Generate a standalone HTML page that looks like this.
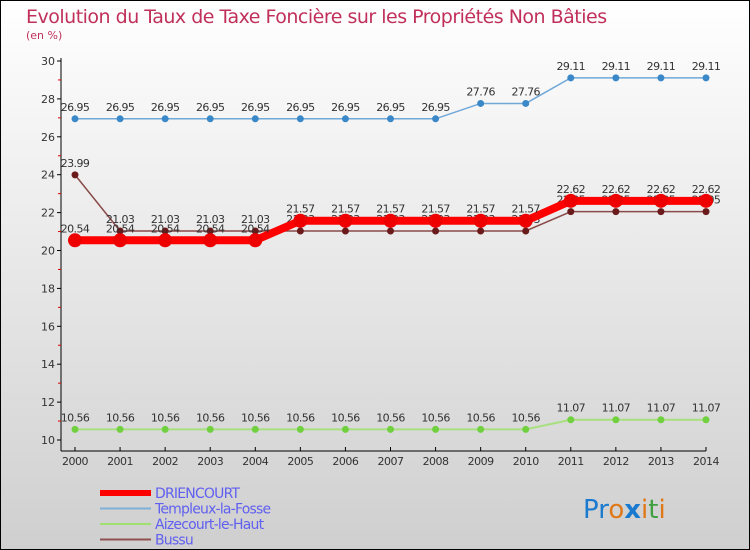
<!DOCTYPE html>
<html><head><meta charset="utf-8"><style>
body{margin:0}
svg{display:block;font-family:"DejaVu Sans","Liberation Sans",sans-serif}
</style></head><body>
<svg width="750" height="550" xmlns="http://www.w3.org/2000/svg">
<defs><linearGradient id="bg" x1="0" y1="0" x2="0" y2="1"><stop offset="0" stop-color="#ffffff"/><stop offset="1" stop-color="#cfcfcf"/></linearGradient></defs>
<rect x="0.5" y="0.5" width="749" height="549" fill="url(#bg)" stroke="#000"/>
<text x="26" y="23" font-size="19" fill="#c0305a" style="letter-spacing:-0.5px">Evolution du Taux de Taxe Foncière sur les Propriétés Non Bâties</text>
<text x="26" y="39" font-size="11" fill="#c0305a">(en %)</text>
<g id="axes"></g><g id="series"></g><g id="legend"></g>
<text x="583" y="518" font-size="26"><tspan fill="#1a7ad0">Pr</tspan><tspan fill="#e07818">o</tspan><tspan fill="#1a7ad0" font-weight="bold">x</tspan><tspan fill="#e07818">i</tspan><tspan fill="#40a040">t</tspan><tspan fill="#e07818">i</tspan></text>
</svg>
<script>
const years=[2000,2001,2002,2003,2004,2005,2006,2007,2008,2009,2010,2011,2012,2013,2014];
const yTicks=[10,12,14,16,18,20,22,24,26,28,30];
const driencourt=[20.54,20.54,20.54,20.54,20.54,21.57,21.57,21.57,21.57,21.57,21.57,22.62,22.62,22.62,22.62];
const templeux=[26.95,26.95,26.95,26.95,26.95,26.95,26.95,26.95,26.95,27.76,27.76,29.11,29.11,29.11,29.11];
const aizecourt=[10.56,10.56,10.56,10.56,10.56,10.56,10.56,10.56,10.56,10.56,10.56,11.07,11.07,11.07,11.07];
const bussu=[23.99,21.03,21.03,21.03,21.03,21.03,21.03,21.03,21.03,21.03,21.03,22.05,22.05,22.05,22.05];
const NS="http://www.w3.org/2000/svg";
const X=i=>75+i*(706-75)/(years.length-1);
const Y=v=>440-(v-10)*(440-61)/20;
function mk(p,t,a){const e=document.createElementNS(NS,t);for(const k in a)e.setAttribute(k,a[k]);p.appendChild(e);return e;}
const ax=document.getElementById('axes');
const yl=mk(ax,'line',{x1:61,y1:58,x2:61,y2:451,stroke:'#000'});


const xl=mk(ax,'line',{x1:61,y1:451,x2:706,y2:451,stroke:'#000'});


yTicks.forEach((v,k)=>{
 mk(ax,'line',{x1:57,y1:Y(v),x2:61,y2:Y(v),stroke:'#000'});
 if(k<yTicks.length-1) mk(ax,'line',{x1:58,y1:Y(v+1),x2:61,y2:Y(v+1),stroke:'#d00'});
 const t=mk(ax,'text',{x:55,y:Y(v)+4,'font-size':11,'text-anchor':'end',fill:'#333'});t.textContent=v;
 
 
});
years.forEach((yr,i)=>{
 mk(ax,'line',{x1:X(i),y1:447,x2:X(i),y2:451,stroke:'#000'});
 const t=mk(ax,'text',{x:X(i),y:465,'font-size':11,'text-anchor':'middle',fill:'#333','letter-spacing':'-0.5'});t.textContent=yr;
 
 
});
const sg=document.getElementById('series');
function series(name,data,color,w,r,dot){
 const g=mk(sg,'g',{});
 
 
 mk(g,'polyline',{points:data.map((v,i)=>X(i)+','+Y(v)).join(' '),fill:'none',stroke:color,'stroke-width':w});
 data.forEach((v,i)=>{
  const c=mk(g,'circle',{cx:X(i),cy:Y(v),r:r,fill:dot});
  
  
  const t=mk(g,'text',{x:X(i),y:Y(v)-8,'font-size':11,'text-anchor':'middle',fill:'#333','letter-spacing':'-0.6'});t.textContent=v.toFixed(2);
  
  
 });
}
series('aizecourt',aizecourt,'#a8e080',2,3.5,'#70d040');
series('templeux',templeux,'#70a8d8',1.5,3.5,'#3a88c8');
series('bussu',bussu,'#8a4a4a',1.5,3.5,'#6a1a1a');
series('driencourt',driencourt,'#ff0000',8,7,'#ee0000');
const lg=document.getElementById('legend');
const items=[['DRIENCOURT','#ff0000',6],['Templeux-la-Fosse','#80b0d8',2],['Aizecourt-le-Haut','#a0e070',2],['Bussu','#905050',2]];
items.forEach((it,k)=>{
 const y=493+k*15.5;
 const l=mk(lg,'line',{x1:100,y1:y,x2:151,y2:y,stroke:it[1],'stroke-width':it[2]});
 
 
 const t=mk(lg,'text',{x:155,y:y+5,'font-size':14,fill:'#6060f0','letter-spacing':'-0.8'});t.textContent=it[0];
 
 
});
</script>
</body></html>
